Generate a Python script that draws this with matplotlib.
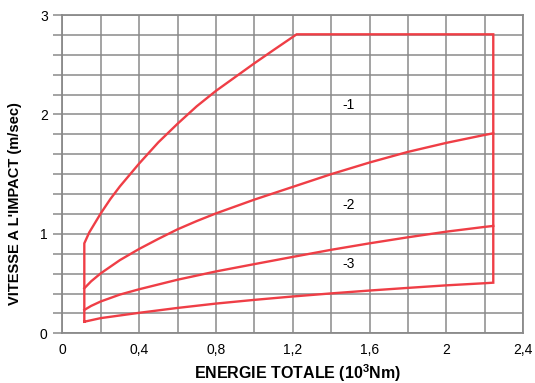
import numpy as np
import matplotlib
matplotlib.use('Agg')
import matplotlib.pyplot as plt

plt.rcParams['font.family'] = ['Liberation Sans', 'DejaVu Sans']
plt.rcParams['mathtext.fontset'] = 'custom'
plt.rcParams['mathtext.bf'] = 'Liberation Sans:bold'

e_1 = [0.1145, 0.14, 0.2, 0.25, 0.3, 0.4, 0.5, 0.6, 0.7, 0.8, 0.9, 1.0, 1.1, 1.22]
v_1 = [0.848, 0.95, 1.13, 1.265, 1.385, 1.60, 1.80, 1.975, 2.14, 2.285, 2.415, 2.545, 2.67, 2.818]

e_2 = [0.1145, 0.15, 0.2, 0.3, 0.4, 0.5, 0.6, 0.7, 0.8, 1.0, 1.2, 1.4, 1.6, 1.8, 2.0, 2.2, 2.244]
v_2 = [0.424, 0.49, 0.565, 0.69, 0.795, 0.89, 0.98, 1.058, 1.13, 1.26, 1.38, 1.50, 1.61, 1.71, 1.795, 1.87, 1.885]

e_3 = [0.1145, 0.15, 0.2, 0.3, 0.4, 0.6, 0.8, 1.0, 1.2, 1.4, 1.6, 1.8, 2.0, 2.2, 2.244]
v_3 = [0.22, 0.258, 0.3, 0.365, 0.415, 0.505, 0.583, 0.652, 0.72, 0.787, 0.848, 0.905, 0.958, 1.003, 1.012]

e_4 = [0.1145, 0.2, 0.4, 0.6, 0.8, 1.0, 1.2, 1.4, 1.6, 1.8, 2.0, 2.2, 2.244]
v_4 = [0.109, 0.143, 0.193, 0.239, 0.28, 0.315, 0.347, 0.376, 0.403, 0.428, 0.452, 0.472, 0.477]

v_max = 2.818

zones = ['-1', '-2', '-3']
zones_e = [1.49, 1.49, 1.49]
zones_v = [2.15, 1.21, 0.65]

x_ticks = [0, 0.4, 0.8, 1.2, 1.6, 2, 2.4]
x_text = ['0', '0,4', '0,8', '1,2', '1,6', '2', '2,4']
y_text = [0, 1, 2, 3]

rouge = '#ef3e46'
gris = '#8a8a8a'

fig = plt.figure(figsize=(5.35, 3.83), dpi=100)
ax = fig.add_axes([0.1165, 0.1298, 0.8615, 0.831])

# quadrillage : 0,2 en x, 16 divisions en y
ystep = 3 / 16
for xv in np.arange(0, 2.41, 0.2):
    ax.axvline(xv, color=gris, lw=1.1, zorder=1)
for yv in np.arange(17) * ystep:
    ax.axhline(yv, color=gris, lw=1.1, zorder=1)

# contour : courbe du bas, bord droit, plafond, courbe du haut
cont_e = e_4 + [e_4[-1], e_4[-1]] + e_1[::-1] + [e_4[0]]
cont_v = v_4 + [v_max, v_max] + v_1[::-1] + [v_4[0]]
ax.plot(cont_e, cont_v, color=rouge, lw=1.7, zorder=3, solid_joinstyle='miter')
ax.plot(e_2, v_2, color=rouge, lw=1.7, zorder=3)
ax.plot(e_3, v_3, color=rouge, lw=1.7, zorder=3)

for t, xe, yv in zip(zones, zones_e, zones_v):
    ax.text(xe, yv, t, ha='center', va='center', fontsize=10, zorder=4)

ax.set_xlim(0, 2.4)
ax.set_ylim(0, 3)
ax.set_xticks(x_ticks)
ax.set_xticklabels(x_text, fontsize=10)
# etiquettes posees sur la ligne du quadrillage la plus proche
ax.set_yticks([round(v / ystep) * ystep for v in y_text])
ax.set_yticklabels([str(v) for v in y_text], fontsize=10)
ax.set_yticks(np.arange(17) * ystep, minor=True)
ax.tick_params(axis='x', length=0, pad=7)
ax.tick_params(axis='y', which='both', length=6.5, width=1.1, color=gris, pad=4)
for s in ax.spines.values():
    s.set_color(gris)
    s.set_linewidth(1.3)

ax.set_xlabel(r'ENERGIE TOTALE (10$^\mathbf{3}$Nm)', fontsize=11.5, fontweight='bold', va='center')
ax.set_ylabel("VITESSE A L'IMPACT (m/sec)", fontsize=10.5, fontweight='bold', va='center')
ax.xaxis.set_label_coords(0.511, -0.125)
ax.yaxis.set_label_coords(-0.1026, 0.409)

plt.savefig('out.png', dpi=100)
